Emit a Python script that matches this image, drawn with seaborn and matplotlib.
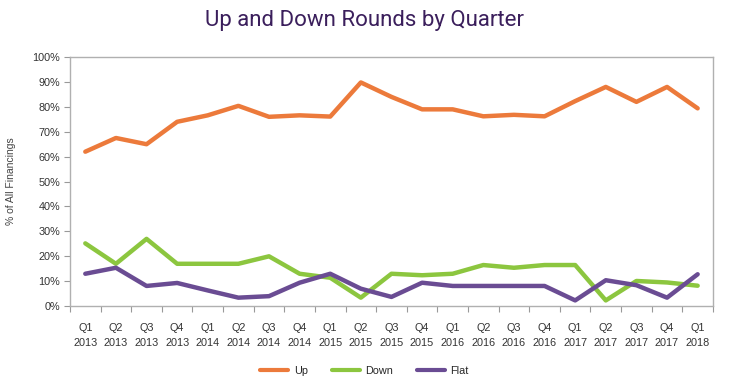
import numpy as np
import pandas as pd
import seaborn as sns
import matplotlib.pyplot as plt
from matplotlib.ticker import FixedLocator, PercentFormatter

# -------- Data --------
quarters = ["Q1\n2013", "Q2\n2013", "Q3\n2013", "Q4\n2013",
            "Q1\n2014", "Q2\n2014", "Q3\n2014", "Q4\n2014",
            "Q1\n2015", "Q2\n2015", "Q3\n2015", "Q4\n2015",
            "Q1\n2016", "Q2\n2016", "Q3\n2016", "Q4\n2016",
            "Q1\n2017", "Q2\n2017", "Q3\n2017", "Q4\n2017",
            "Q1\n2018"]
up = [62, 67.5, 65, 74, 76.6, 80.4, 76, 76.6, 76.1, 89.8, 84,
      79, 79, 76.2, 76.8, 76.2, 82.3, 88, 82, 88, 79.4]
down = [25.2, 17, 27, 17, 17, 17, 20, 13, 11.4, 3.4, 13,
        12.4, 13, 16.5, 15.4, 16.5, 16.5, 2.3, 10.1, 9.5, 8.2]
flat = [13, 15.4, 8.1, 9.3, 6.3, 3.4, 4, 9.4, 13, 7, 3.7,
        9.4, 8.1, 8.1, 8.1, 8.1, 2.3, 10.4, 8.4, 3.4, 12.8]
series_names = ["Up", "Down", "Flat"]
colors = {"Up": "#ec7a3b", "Down": "#8cc63f", "Flat": "#6a4c93"}

df = pd.DataFrame({
    "idx": np.tile(np.arange(len(quarters)), 3),
    "value": up + down + flat,
    "series": np.repeat(series_names, len(quarters)),
})

# -------- Plot --------
sns.set_style("white")
plt.rcParams["font.family"] = ["Liberation Sans", "DejaVu Sans"]

fig = plt.figure(figsize=(7.29, 3.88), dpi=100)
ax = fig.add_axes([0.096, 0.211, 0.882, 0.642])

sns.lineplot(data=df, x="idx", y="value", hue="series", hue_order=series_names,
             palette=colors, linewidth=3.2, ax=ax, legend=True)

ax.set_xlim(-0.5, len(quarters) - 0.5)
ax.set_ylim(0, 100)
ax.set_yticks(np.arange(0, 101, 10))
ax.yaxis.set_major_formatter(PercentFormatter(decimals=0))
ax.set_xticks(np.arange(len(quarters)))
ax.set_xticklabels(quarters, linespacing=1.6)
ax.xaxis.set_minor_locator(FixedLocator(np.arange(-0.5, len(quarters), 1)))
ax.tick_params(axis="x", which="major", length=0, pad=12, labelsize=7.8, colors="#333333")
ax.tick_params(axis="x", which="minor", length=4, width=0.8, color="#999999", direction="out", bottom=True)
ax.tick_params(axis="y", length=4, width=0.8, color="#999999", direction="out", left=True,
               labelsize=7.8, labelcolor="#333333", pad=3)

for s in ax.spines.values():
    s.set_color("#b0b0b0")
    s.set_linewidth(1.0)

ax.set_xlabel("")
ax.set_ylabel("% of All Financings", fontsize=7.5, color="#444444", labelpad=12)

fig.suptitle("Up and Down Rounds by Quarter", x=0.5, y=0.975, fontsize=16,
             color="#3b1f5c", family=["Roboto", "DejaVu Sans"])

leg = ax.legend(loc="upper center", bbox_to_anchor=(0.458, -0.2), ncol=3, frameon=False,
                fontsize=7.8, handlelength=2.6, columnspacing=2.2, handletextpad=0.5)
for line in leg.get_lines():
    line.set_linewidth(3.0)

plt.savefig("out.png", dpi=100)
plt.close()
